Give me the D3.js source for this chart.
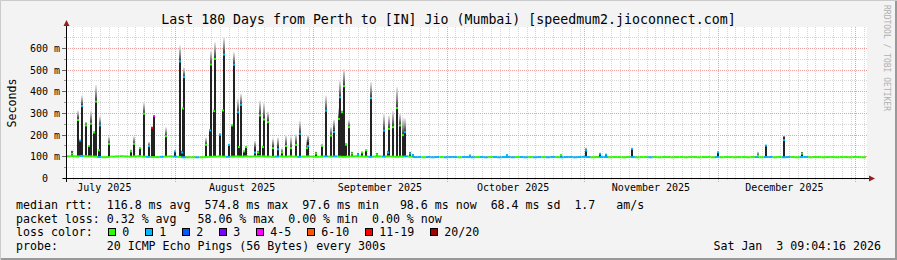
<!DOCTYPE html>
<html><head><meta charset="utf-8">
<script src="https://cdn.jsdelivr.net/npm/d3@7"></script>
<style>
html,body{margin:0;padding:0;background:#f3f3f3;}
svg{display:block;}
text{font-family:"DejaVu Sans Mono",monospace;white-space:pre;}
</style></head>
<body>
<svg id="chart" width="897" height="260"></svg>
<script>
// ---------------- DATA ----------------
const title = "Last 180 Days from Perth to [IN] Jio (Mumbai) [speedmum2.jioconnect.com]";
const yTicks = [0, 100, 200, 300, 400, 500, 600];
const yTickLabels = ["0  ", "100 m", "200 m", "300 m", "400 m", "500 m", "600 m"];
const monthLabels = ["July 2025", "August 2025", "September 2025", "October 2025", "November 2025", "December 2025"];
const lossLabels = ["0", "1", "2", "3", "4-5", "6-10", "11-19", "20/20"];
const lossColors = ["#26ff00", "#00b8ff", "#0059ff", "#7e00ff", "#ff00ff", "#ff5500", "#ff0000", "#a10000"];

// daily baseline median rtt (ms), 180 days starting Jul 7 2025
const baseMed = [
 102,103,102,104,103,102,101,99,98,99, 101,102,103,102,101,102,103,101,100,99,
 99,100,101,102,101,100,98,98,98,98, 98,99,100,101,102,101,100,101,102,101,
 102,101,102,103,102,101,100,101,102,101, 102,101,100,101,102,101,100,101,102,101,
 102,101,100,101,102,103,102,101,100,101, 102,101,102,101,100,101,102,101,99,99,
 98,99,98,99,99,98,99,99,98,99, 99,98,99,99,98,99,99,98,99,99,
 98,99,99,98,99,98,99,99,98,99, 99,98,99,99,98,99,100,99,98,99,
 99,99,98,99,99,98,99,99,98,99, 99,98,99,98,99,99,98,99,99,98,
 99,99,98,99,99,98,99,98,99,99, 98,99,99,98,99,99,98,99,99,98,
 99,98,99,99,98,99,99,98,99,99, 98,99,99,98,99,99,98,99,99,98
];
// daily baseline loss class (index into lossColors)
const baseLoss = [
 0,0,0,1,0,0,0,1,0,0, 0,0,0,0,0,0,0,0,1,0, 0,1,0,0,1,0,1,0,0,1,
 0,0,0,0,0,0,1,0,0,0, 0,0,0,0,0,0,0,1,0,0, 0,0,1,0,0,0,0,0,1,0,
 1,0,0,0,0,0,0,0,1,0, 0,1,0,0,0,0,1,0,1,1, 0,1,1,1,0,1,1,1,0,1,
 1,1,0,1,1,0,1,1,1,1, 1,0,1,1,0,1,1,0,1,1, 0,1,1,1,1,1,1,1,0,0,
 1,1,0,0,0,0,0,1,0,0, 0,1,0,0,0,0,0,0,0,0, 0,0,0,0,0,0,1,0,0,0,
 0,0,0,0,0,1,0,1,1,0, 0,1,1,0,0,1,1,0,0,0, 0,0,0,0,0,0,0,0,0,0
];
// smoke spikes: time (days since Jul 7 2025 09:04), median, dense-smoke top, smoke max (ms), loss class
const spikeDay = [1.35,2.7,3.15,3.6,4.39,5.24,5.67,6.3,6.82,7.34,7.7,9.68,14.56,15.41,16.58,17.6,18.72,19.46,19.8,22.46,
 24.48,25.65,26.03,26.26,26.55,31.61,32.4,32.63,33.37,33.59,34.65,35.26,35.48,36.74,37.46,37.73,38.63,38.99,39.38,40.16,
 40.5,42.53,43.31,43.61,44.39,44.55,45.56,46.58,47.7,48.65,49.57,50.67,51.64,52.65,54.23,54.52,56.36,57.49,58.43,59.58,
 60.3,61.38,61.65,62.21,62.62,62.96,63.72,64.31,65.81,66.56,67.55,68.63,69.93,71.48,72.41,72.61,73.58,74.54,75.22,75.76,
 76.32,77.45,78.01,90.9,99.16,111.38,116.89,120.15,121.5,127.31,146.59,155.59,157.46,161.44,165.71];
const spikeMed = [115,270,175,334,245,150,253,212,355,130,245,160,125,160,140,299,150,234,288,195,
 125,540,120,323,468,155,222,526,311,552,202,314,572,155,245,525,306,145,340,125,
 145,120,120,291,145,272,260,140,135,120,150,140,155,206,140,150,115,150,313,198,
 215,275,375,306,426,156,237,115,110,120,130,371,110,221,120,229,237,325,245,200,
 214,115,108,106,108,108,129,114,110,137,121,105,152,177,115];
const spikeDark = [125,275,175,337,248,152,255,212,355,130,245,160,125,160,140,299,150,236,288,195,
 125,540,125,323,468,155,222,526,311,555,202,314,575,155,245,525,306,145,340,125,
 145,140,125,291,145,275,263,145,145,120,150,140,160,206,140,170,120,150,313,198,
 226,275,375,306,426,156,237,120,115,120,130,371,115,221,125,229,237,325,245,200,
 214,120,112,106,108,108,129,114,110,137,121,105,152,191,121];
const spikeMax = [130,314,180,383,262,155,314,220,432,135,288,195,135,195,145,352,170,240,290,237,
 130,614,130,330,514,190,230,590,320,629,210,320,652,160,250,583,369,150,391,130,
 150,175,130,360,150,351,310,185,190,140,200,195,205,268,180,200,125,160,383,240,
 272,326,454,315,506,165,270,125,120,125,135,445,120,300,130,290,314,422,300,280,
 278,125,115,108,110,112,144,118,113,140,125,125,155,198,124];
const spikeLoss = [0,0,1,1,0,0,0,0,0,0,1,0,0,0,0,0,1,6,4,0,
 1,1,1,0,1,0,1,0,0,0,1,0,1,1,0,1,1,0,1,0,
 0,1,0,0,0,0,0,0,1,0,0,0,0,1,0,1,0,0,1,0,
 1,0,1,0,0,0,0,0,1,0,0,1,0,1,1,0,0,0,0,0,
 1,1,1,1,1,0,1,1,1,1,1,0,1,1,0];

// legend rows: label, then [text, character column]
const statRows = [
 ["median rtt:", [["116.8 ms avg",13],["574.8 ms max",27],["97.6 ms min",41],["98.6 ms now",55],["68.4 ms sd",68],["1.7",80],["am/s",86]]],
 ["packet loss:", [["0.32 % avg",13],["58.06 % max",26],["0.00 % min",39],["0.00 % now",51]]]
];
const probeText = "20 ICMP Echo Pings (56 Bytes) every 300s";
const dateText = "Sat Jan  3 09:04:16 2026";

// ---------------- DRAW ----------------
const svg = d3.select("#chart");
const W = 897, H = 260;
const start = new Date(2025, 6, 7, 9, 4, 16);
const end = new Date(2026, 0, 3, 9, 4, 16);
const DAY = 86400000;
const x = d3.scaleTime().domain([start, end]).range([66, 866]);
const y = d3.scaleLinear().domain([0, 700]).range([178.5, 26.83]);
const dayToDate = d => new Date(start.getTime() + d * DAY);
const FS = "11.6px", CW = 6.98;

// background & frame
svg.append("rect").attr("width", W).attr("height", H).attr("fill", "#f3f3f3");
svg.append("path").attr("d", `M0.5,${H}V0.5H${W}`).attr("stroke", "#cbcbcb").attr("fill", "none").attr("stroke-width", 1);
svg.append("path").attr("d", `M1,${H-1}H${W-1}V1`).attr("stroke", "#999").attr("fill", "none").attr("stroke-width", 2);
svg.append("rect").attr("x", 67).attr("y", 27).attr("width", 800).attr("height", 151).attr("fill", "#fff");

const defs = svg.append("defs");
const grad = defs.append("linearGradient").attr("id", "smoke").attr("x1", 0).attr("y1", 1).attr("x2", 0).attr("y2", 0);
grad.append("stop").attr("offset", 0).attr("stop-color", "#333");
grad.append("stop").attr("offset", 0.45).attr("stop-color", "#8c8c8c");
grad.append("stop").attr("offset", 1).attr("stop-color", "#eeeeee");

// grid: minor every 2 days, major at month starts; horizontal minor every 50, major every 100
const g = svg.append("g");
const minor = d3.timeDay.every(2).range(new Date(2025, 6, 8), end);
const months = d3.timeMonth.range(start, end);
g.selectAll(".vmin").data(minor).join("line")
  .attr("x1", d => Math.round(x(d)) + 0.5).attr("x2", d => Math.round(x(d)) + 0.5)
  .attr("y1", 27).attr("y2", 181).attr("stroke", "#d6d6d6").attr("stroke-dasharray", "1,1");
const hMinor = d3.range(50, 700, 100);
g.selectAll(".hmin").data(hMinor).join("line")
  .attr("x1", 64).attr("x2", 867).attr("y1", d => Math.floor(y(d)) + 0.5).attr("y2", d => Math.floor(y(d)) + 0.5)
  .attr("stroke", "#d6d6d6").attr("stroke-dasharray", "1,1");
g.selectAll(".vmaj").data(months).join("line")
  .attr("x1", d => Math.round(x(d)) + 0.5).attr("x2", d => Math.round(x(d)) + 0.5)
  .attr("y1", 27).attr("y2", 182).attr("stroke", "#eda0a0").attr("stroke-dasharray", "1,1");
g.selectAll(".hmaj").data(yTicks.slice(1)).join("line")
  .attr("x1", 62).attr("x2", 867).attr("y1", d => Math.floor(y(d)) + 0.5).attr("y2", d => Math.floor(y(d)) + 0.5)
  .attr("stroke", "#eda0a0").attr("stroke-dasharray", "1,1");

// smoke + spikes
const spikes = spikeDay.map((d, i) => ({t: dayToDate(d), med: spikeMed[i], dark: spikeDark[i], max: spikeMax[i], loss: spikeLoss[i],
  base: baseMed[Math.floor(d)]}));
const sg = svg.append("g");
sg.selectAll(".smk").data(spikes.filter(s => s.max > s.dark)).join("rect")
  .attr("x", s => Math.round(x(s.t)) - 1).attr("width", 2)
  .attr("y", s => y(s.max)).attr("height", s => y(s.dark) - y(s.max))
  .attr("fill", "url(#smoke)");
sg.selectAll(".bar").data(spikes).join("rect")
  .attr("x", s => Math.round(x(s.t)) - 1).attr("width", 2)
  .attr("y", s => y(s.dark)).attr("height", s => Math.max(0, y(s.base) - y(s.dark)))
  .attr("fill", "#222");

// baseline median line
const base = baseMed.map((v, i) => ({d0: dayToDate(i), d1: dayToDate(i + 1), v, loss: baseLoss[i]}));
svg.append("g").selectAll("rect").data(base).join("rect")
  .attr("x", b => x(b.d0)).attr("width", b => Math.min(x(b.d1), 866) - x(b.d0))
  .attr("y", b => y(b.v) - 1).attr("height", 2)
  .attr("fill", b => lossColors[b.loss]);
// spike medians
svg.append("g").selectAll("rect").data(spikes).join("rect")
  .attr("x", s => Math.round(x(s.t)) - 1).attr("width", 2)
  .attr("y", s => y(s.med) - 1).attr("height", 2)
  .attr("fill", s => lossColors[s.loss]);

// axes
const ax = svg.append("g");
ax.selectAll(".yt").data(yTicks).join("line")
  .attr("x1", 62).attr("x2", 67).attr("y1", d => Math.floor(y(d)) + 0.5).attr("y2", d => Math.floor(y(d)) + 0.5)
  .attr("stroke", "#666");
ax.selectAll(".ytm").data(hMinor).join("line")
  .attr("x1", 64).attr("x2", 67).attr("y1", d => Math.floor(y(d)) + 0.5).attr("y2", d => Math.floor(y(d)) + 0.5)
  .attr("stroke", "#999");
ax.append("line").attr("x1", 63).attr("x2", 870).attr("y1", 178.5).attr("y2", 178.5).attr("stroke", "#000");
ax.append("line").attr("x1", 66.5).attr("x2", 66.5).attr("y1", 182).attr("y2", 24).attr("stroke", "#000");
ax.append("path").attr("d", "M869,175.5L875,178.5L869,181.5Z").attr("fill", "#9b1c1c");
ax.append("path").attr("d", "M63.5,26L66.5,20L69.5,26Z").attr("fill", "#9b1c1c");

svg.append("g").selectAll("text").data(yTicks).join("text")
  .attr("x", 60).attr("y", d => Math.floor(y(d)) + 4)
  .attr("text-anchor", "end").attr("font-size", "10px").attr("fill", "#000")
  .text((d, i) => yTickLabels[i]);

// month labels centred on the 16th of each month
const labelDates = d3.timeMonth.range(new Date(2025, 6, 1), end).map(m => new Date(m.getFullYear(), m.getMonth(), 16));
svg.append("g").selectAll("text").data(labelDates.slice(0, monthLabels.length)).join("text")
  .attr("x", d => x(d)).attr("y", 191)
  .attr("text-anchor", "middle").attr("font-size", "10px").attr("fill", "#000")
  .text((d, i) => monthLabels[i]);

// title, y label, watermark
svg.append("text").attr("x", 448.5).attr("y", 24).attr("text-anchor", "middle")
  .attr("font-size", "13.25px").attr("fill", "#000").text(title);
svg.append("text").attr("transform", "translate(15.5,103) rotate(-90)").attr("text-anchor", "middle")
  .attr("font-size", FS).attr("fill", "#000").text("Seconds");
svg.append("text").attr("transform", "translate(884,5) rotate(90)").attr("font-size", "8px")
  .attr("fill", "#b0b0b0").text("RRDTOOL / TOBI OETIKER");

// legend
const rowY = [208.5, 222.5, 236, 250];
const X0 = 16;
statRows.forEach((r, i) => {
  svg.append("text").attr("x", X0).attr("y", rowY[i]).attr("font-size", FS).text(r[0]);
  r[1].forEach(p => svg.append("text").attr("x", X0 + p[1] * CW).attr("y", rowY[i]).attr("font-size", FS).text(p[0]));
});
svg.append("text").attr("x", X0).attr("y", rowY[2]).attr("font-size", FS).text("loss color:");
let bx = 108.3;
lossLabels.forEach((l, i) => {
  svg.append("rect").attr("x", Math.round(bx) + 0.5).attr("y", 228.5).attr("width", 7).attr("height", 7)
    .attr("fill", lossColors[i]).attr("stroke", "#000");
  const tx = bx + 14;
  svg.append("text").attr("x", tx).attr("y", rowY[2]).attr("font-size", FS).text(l);
  bx = tx + l.length * 7 + 16;
});
svg.append("text").attr("x", X0).attr("y", rowY[3]).attr("font-size", FS).text("probe:");
svg.append("text").attr("x", X0 + 13 * CW).attr("y", rowY[3]).attr("font-size", FS).text(probeText);
svg.append("text").attr("x", 881).attr("y", rowY[3]).attr("text-anchor", "end").attr("font-size", FS).text(dateText);
</script>
</body></html>
